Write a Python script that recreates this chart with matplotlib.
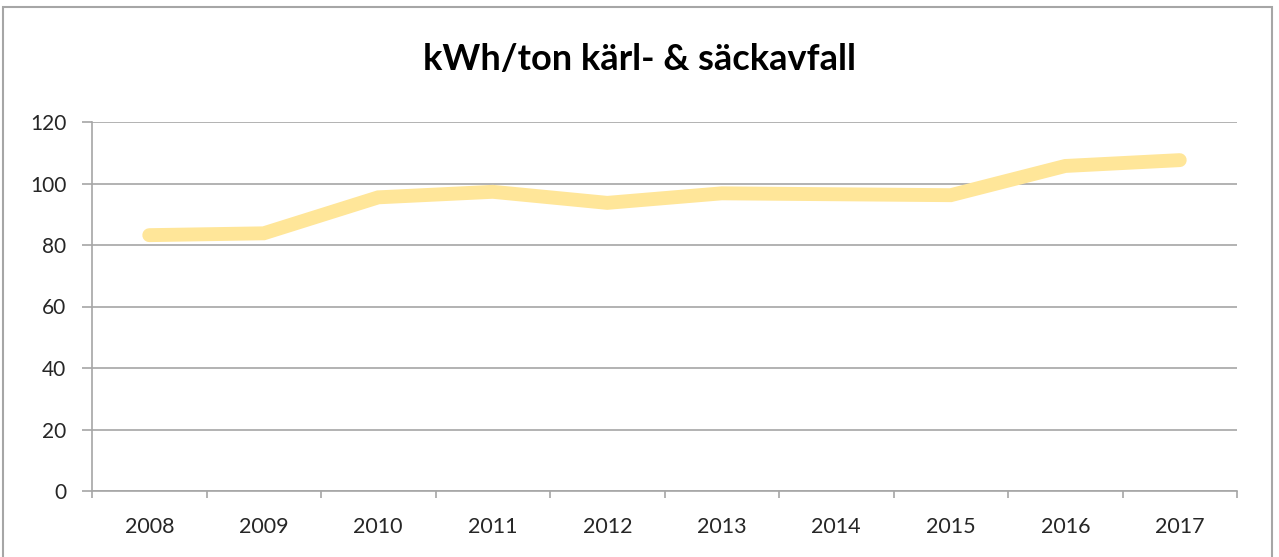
import numpy as np
import matplotlib
matplotlib.use("Agg")
import matplotlib.pyplot as plt
from matplotlib.patches import Rectangle

# data
years = ['2008', '2009', '2010', '2011', '2012', '2013', '2014', '2015', '2016', '2017']
kwh_per_ton = [83.2, 83.8, 95.5, 97.3, 93.7, 96.8, 96.5, 96.2, 105.7, 107.6]
y_ticks = [0, 20, 40, 60, 80, 100, 120]

plt.rcParams['font.family'] = ['Lato', 'DejaVu Sans']

fig = plt.figure(figsize=(12.79, 5.57), dpi=100)
ax = fig.add_axes([92 / 1279, 66 / 557, (1237 - 92) / 1279, (491 - 122) / 557])

x = np.arange(len(years))
ax.plot(x, kwh_per_ton, color='#FFE699', lw=10, solid_capstyle='round',
        solid_joinstyle='miter', zorder=3)

ax.set_xlim(-0.5, len(years) - 0.5)
ax.set_ylim(0, 120)
ax.set_yticks(y_ticks)
ax.set_yticklabels([str(v) for v in y_ticks])

# category ticks sit between the labels, as in Excel
ax.set_xticks(np.arange(-0.5, len(years)), minor=False)
ax.set_xticklabels([])
ax.set_xticks(x, minor=True)
ax.set_xticklabels(years, minor=True)
ax.tick_params(axis='x', which='major', length=5, color='#A6A6A6', width=1.2)
ax.tick_params(axis='x', which='minor', length=0, pad=19, labelsize=15.5, labelcolor='#262626')
ax.tick_params(axis='y', length=7, color='#A6A6A6', width=1.2, pad=11.5,
               labelsize=15, labelcolor='#262626')

ax.grid(axis='y', color='#A6A6A6', lw=1.2, zorder=0)
for side in ['top', 'right']:
    ax.spines[side].set_visible(False)
for side in ['left', 'bottom']:
    ax.spines[side].set_color('#A6A6A6')
    ax.spines[side].set_linewidth(1.2)

fig.text(0.5, 1 - 70 / 557, 'kWh/ton kärl- & säckavfall', ha='center', va='baseline',
         fontsize=26, fontweight='bold', color='black')

# chart frame
fig.patches.append(Rectangle((3 / 1279, -0.05), (1272 - 3) / 1279, 1.05 - 7 / 557,
                             transform=fig.transFigure, fill=False,
                             edgecolor='#A6A6A6', lw=1.5))

fig.savefig('out.png', dpi=100, facecolor='white')
